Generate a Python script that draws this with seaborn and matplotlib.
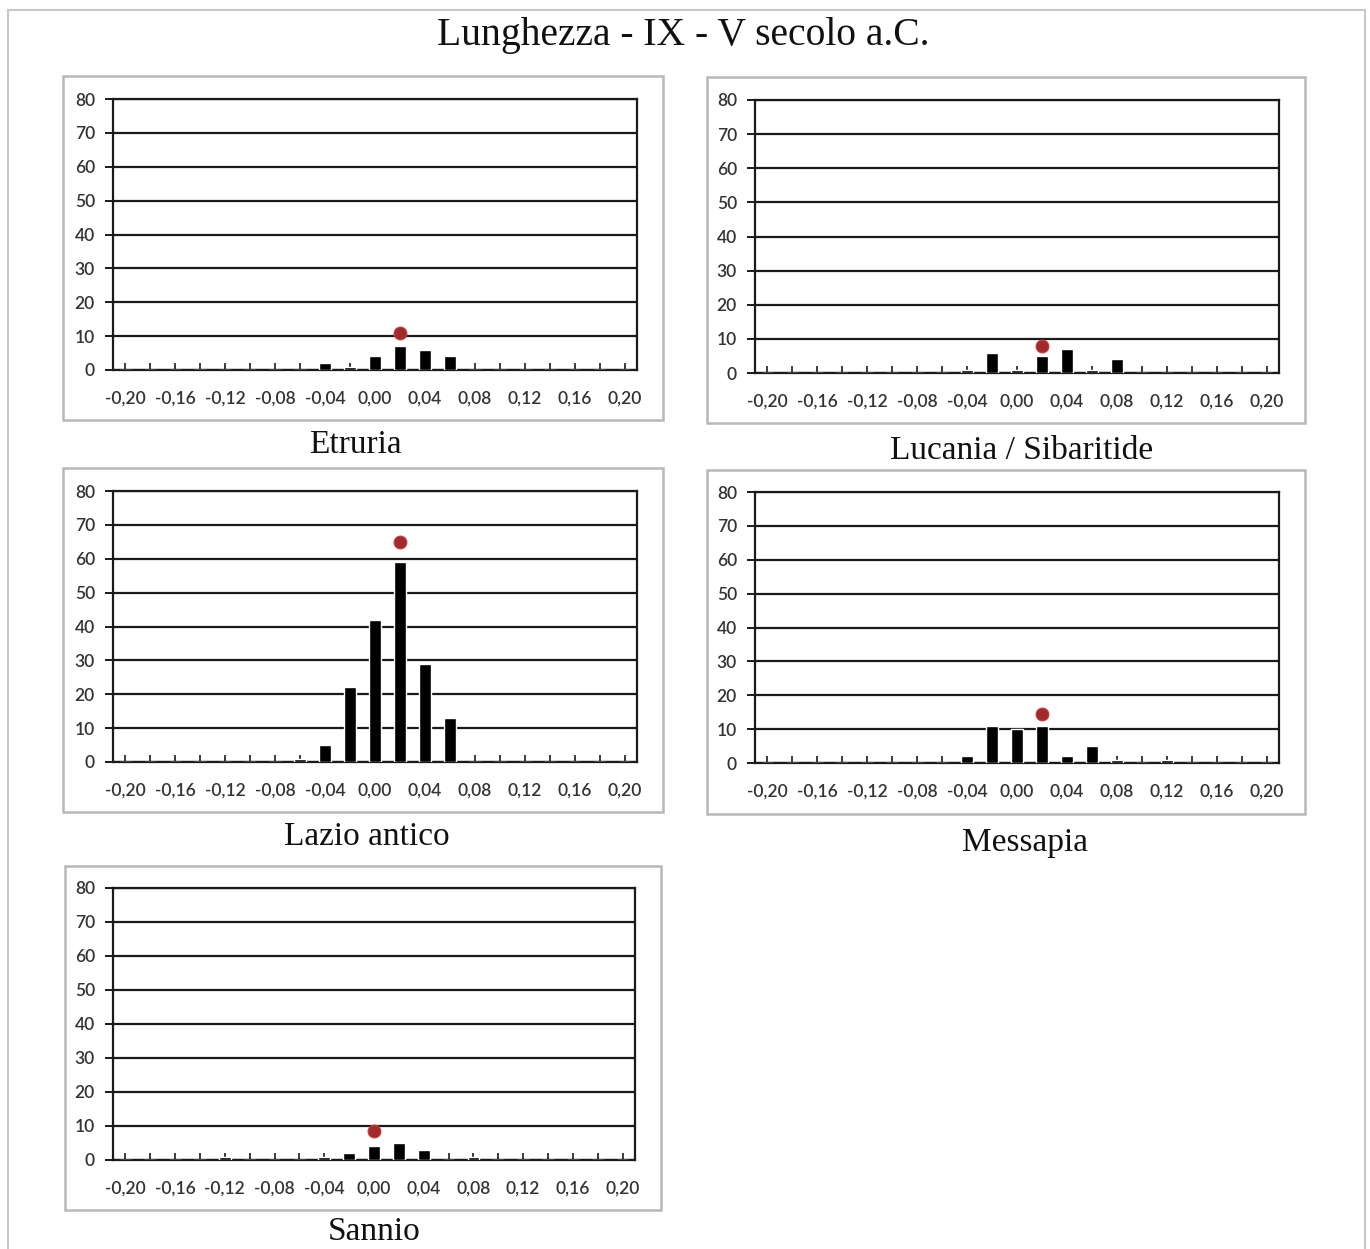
import matplotlib
matplotlib.use("Agg")
import matplotlib.pyplot as plt
from matplotlib.patches import Rectangle
import seaborn as sns
import pandas as pd

# Bin centres of the length deviation (categorical x axis)
bins = [-0.20, -0.18, -0.16, -0.14, -0.12, -0.10, -0.08, -0.06, -0.04, -0.02,
        0.00, 0.02, 0.04, 0.06, 0.08, 0.10, 0.12, 0.14, 0.16, 0.18, 0.20]
bin_labels = [f"{b:.2f}".replace(".", ",").replace("-0,00", "0,00") for b in bins]

# Counts per bin, for each region
etruria = [0, 0, 0, 0, 0, 0, 0, 0, 2, 1, 4, 7, 6, 4, 0, 0, 0, 0, 0, 0, 0]
lucania = [0, 0, 0, 0, 0, 0, 0, 0, 1, 6, 1, 5, 7, 1, 4, 0, 0, 0, 0, 0, 0]
lazio = [0, 0, 0, 0, 0, 0, 0, 1, 5, 22, 42, 59, 29, 13, 0, 0, 0, 0, 0, 0, 0]
messapia = [0, 0, 0, 0, 0, 0, 0, 0, 2, 11, 10, 11, 2, 5, 1, 0, 1, 0, 0, 0, 0]
sannio = [0, 0, 0, 0, 1, 0, 0, 0, 1, 2, 4, 5, 3, 0, 1, 0, 0, 0, 0, 0, 0]

# Reference marker (bin, height) for each region
marker_bins = [0.02, 0.02, 0.02, 0.02, 0.00]
marker_heights = [11, 8, 65, 14.5, 8.5]

region_names = ["Etruria", "Lucania / Sibaritide", "Lazio antico", "Messapia", "Sannio"]
region_counts = [etruria, lucania, lazio, messapia, sannio]

title = "Lunghezza - IX - V secolo a.C."
y_ticks = [0, 10, 20, 30, 40, 50, 60, 70, 80]

W, H = 1370, 1249
sns.set_theme(style="white")
plt.rcParams["font.family"] = ["Lato", "DejaVu Sans"]

fig = plt.figure(figsize=(W / 100, H / 100), dpi=100)
fig.patch.set_facecolor("white")

def fx(x):
    return x / W

def fy(y):
    return 1 - y / H

# panel layout in pixels: (axes l, r, t, b), (box l, r, t, b), caption (x, y)
layout = [
    ((113, 637, 99, 370), (63, 663, 76, 420), (355, 445)),
    ((755, 1279, 100, 373), (707, 1305, 77, 423), (1022, 451)),
    ((113, 637, 491, 762), (63, 663, 468, 812), (367, 837)),
    ((755, 1279, 492, 763), (707, 1305, 470, 814), (1025, 843)),
    ((113, 635, 888, 1160), (65, 661, 866, 1210), (374, 1232)),
]

serif = ["Liberation Serif", "DejaVu Serif"]

# outer frame
fig.patches.append(Rectangle((fx(8), fy(1260)), fx(1365 - 8), (1260 - 10) / H,
                             transform=fig.transFigure, fill=False,
                             edgecolor="#c8c8c8", lw=1.5, zorder=0))

fig.text(fx(683), fy(36), title, ha="center", va="center",
         fontsize=28.5, family=serif, color="#111111")

for name, counts, mb, mh, (ax_px, box_px, cap) in zip(
        region_names, region_counts, marker_bins, marker_heights, layout):
    bl, br, bt, bb = box_px
    fig.patches.append(Rectangle((fx(bl), fy(bb)), fx(br - bl), (bb - bt) / H,
                                 transform=fig.transFigure, fill=False,
                                 edgecolor="#b8b8b8", lw=1.8, zorder=0))
    l, r, t, b = ax_px
    ax = fig.add_axes([fx(l), fy(b), fx(r - l), (b - t) / H])
    df = pd.DataFrame({"bin": bin_labels, "count": counts})
    sns.barplot(data=df, x="bin", y="count", order=bin_labels, color="black",
                width=0.47, saturation=1, ax=ax, zorder=3)
    pos = bins.index(mb)
    sns.scatterplot(x=[pos], y=[mh], color="#a32a2a", s=85, edgecolor="#c04040",
                    linewidth=0.8, ax=ax, zorder=4, legend=False)
    ax.set_xlim(-0.5, len(bins) - 0.5)
    ax.set_ylim(0, 80)
    ax.set_yticks(y_ticks)
    ax.set_yticklabels([str(v) for v in y_ticks])
    ax.set_xticks(range(len(bins)))
    ax.set_xticklabels([lab if i % 2 == 0 else "" for i, lab in enumerate(bin_labels)])
    ax.set_xlabel("")
    ax.set_ylabel("")
    ax.yaxis.grid(True, color="#1a1a1a", lw=1.6, zorder=1)
    ax.set_axisbelow(True)
    for sp in ax.spines.values():
        sp.set_visible(True)
        sp.set_color("#1a1a1a")
        sp.set_linewidth(1.6)
    ax.tick_params(axis="x", direction="in", length=5, width=1.2, color="#1a1a1a",
                   labelsize=12.5, labelcolor="#333333", pad=15, bottom=True)
    ax.tick_params(axis="y", direction="out", length=6, width=1.4, color="#1a1a1a",
                   labelsize=12.5, labelcolor="#333333", pad=7, left=True)
    for lab in ax.get_xticklabels() + ax.get_yticklabels():
        lab.set_fontweight("semibold")
    fig.text(fx(cap[0]), fy(cap[1]), name, ha="center", va="center",
             fontsize=24, family=serif, color="#111111")

fig.savefig("out.png", dpi=100, facecolor="white")
